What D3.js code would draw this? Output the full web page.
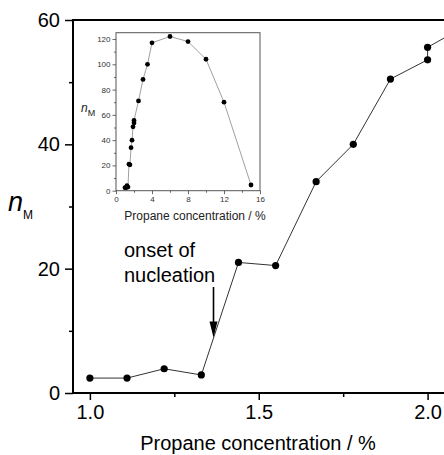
<!DOCTYPE html>
<html>
<head>
<meta charset="utf-8">
<script src="https://cdn.jsdelivr.net/npm/d3@7"></script>
<style>
  body { margin: 0; background: #fff; }
  svg { display: block; font-family: "Liberation Sans", Arial, sans-serif; }
</style>
</head>
<body>
<svg id="chart" width="444" height="455"></svg>
<script>
// propane concentration (%) and n_M
const concentration = [1.0, 1.11, 1.22, 1.33, 1.44, 1.55, 1.67, 1.78, 1.89, 2.0, 2.0, 2.5, 3.0, 3.5, 4.0, 6.0, 8.0, 10.0, 12.0, 15.0];
const nM = [2.4, 2.4, 3.9, 2.9, 21.0, 20.5, 34.0, 40.0, 50.5, 53.6, 55.6, 71, 88, 100, 117, 122, 118, 104, 70, 4.5];

const mainXTicks = [1.0, 1.5, 2.0];
const mainXMinor = [1.25, 1.75];
const mainYTicks = [0, 20, 40, 60];
const mainYMinor = [10, 30, 50];
const insetXTicks = [0, 4, 8, 12, 16];
const insetXMinor = [2, 6, 10, 14];
const insetYTicks = [0, 20, 40, 60, 80, 100, 120];
const insetYMinor = [10, 30, 50, 70, 90, 110];

const data = concentration.map((c, i) => ({ c, n: nM[i] }));
const svg = d3.select('#chart');

// ---- main panel ----
const mLeft = 73, mTop = 20, mBottom = 393;
const x = d3.scaleLinear().domain([0.95, 2.1]).range([mLeft, mLeft + 1.15 * 337.7]);
const y = d3.scaleLinear().domain([0, 60]).range([mBottom, mTop]);

svg.append('defs').append('clipPath').attr('id', 'plotclip')
  .append('rect').attr('x', mLeft).attr('y', mTop - 5).attr('width', 444 - mLeft).attr('height', mBottom - mTop + 5);

const plot = svg.append('g').attr('clip-path', 'url(#plotclip)');
const line = d3.line().x(d => x(d.c)).y(d => y(d.n));
plot.append('path').datum(data)
  .attr('d', line).attr('fill', 'none').attr('stroke', '#333').attr('stroke-width', 1);
plot.selectAll('circle').data(data).join('circle')
  .attr('cx', d => x(d.c)).attr('cy', d => y(d.n)).attr('r', 3.6).attr('fill', '#000');

// frame line along the top
svg.append('line').attr('x1', mLeft - 1).attr('x2', 444).attr('y1', mTop).attr('y2', mTop)
  .attr('stroke', '#000').attr('stroke-width', 2);

const xAxis = svg.append('g').attr('transform', `translate(0,${mBottom})`)
  .call(d3.axisBottom(x).tickValues(mainXTicks).tickFormat(d3.format('.1f')).tickSize(7).tickSizeOuter(0).tickPadding(5));
svg.append('g').attr('transform', `translate(0,${mBottom})`)
  .call(d3.axisBottom(x).tickValues(mainXMinor).tickFormat('').tickSize(4).tickSizeOuter(0))
  .call(g => g.select('.domain').remove());
const yAxis = svg.append('g').attr('transform', `translate(${mLeft},0)`)
  .call(d3.axisLeft(y).tickValues(mainYTicks).tickSize(8).tickSizeOuter(0).tickPadding(5));
svg.append('g').attr('transform', `translate(${mLeft},0)`)
  .call(d3.axisLeft(y).tickValues(mainYMinor).tickFormat('').tickSize(4).tickSizeOuter(0))
  .call(g => g.select('.domain').remove());

xAxis.select('.domain').attr('d', `M${mLeft - 1},0H444`);
yAxis.select('.domain').attr('d', `M0,${mBottom + 1}V${mTop - 1}`);
svg.selectAll('.domain').attr('stroke', '#000').attr('stroke-width', 2);
svg.selectAll('.tick line').attr('stroke', '#000').attr('stroke-width', 1.5);
svg.selectAll('.tick text').attr('font-size', 20).attr('fill', '#000').attr('font-family', 'Liberation Sans, Arial, sans-serif');

svg.append('text').attr('x', 258).attr('y', 450).attr('text-anchor', 'middle')
  .attr('font-size', 20).text('Propane concentration / %');

const ylab = svg.append('text').attr('x', 8).attr('y', 211);
ylab.append('tspan').attr('font-size', 27).attr('font-style', 'italic').text('n');
ylab.append('tspan').attr('font-size', 12).attr('dy', 8).text('M');

// annotation
svg.append('text').attr('x', 124).attr('y', 257).attr('font-size', 20).text('onset of');
svg.append('text').attr('x', 124).attr('y', 281.5).attr('font-size', 20).text('nucleation');
svg.append('line').attr('x1', 213.5).attr('x2', 213.5).attr('y1', 287).attr('y2', 324)
  .attr('stroke', '#000').attr('stroke-width', 1.6);
svg.append('path').attr('d', 'M209.5,321.5 L217.5,321.5 L213.5,337.5 Z').attr('fill', '#000');

// ---- inset ----
const ix = d3.scaleLinear().domain([0, 16]).range([116, 260]);
const iy = d3.scaleLinear().domain([0, 125]).range([190.7, 32.7]);
const inset = svg.append('g').attr('class', 'inset');

inset.append('rect').attr('x', 116).attr('y', 32.7).attr('width', 144).attr('height', 158)
  .attr('fill', '#fff').attr('stroke', '#555').attr('stroke-width', 1);
inset.append('path').datum(data)
  .attr('d', d3.line().x(d => ix(d.c)).y(d => iy(d.n)))
  .attr('fill', 'none').attr('stroke', '#888').attr('stroke-width', 0.8);
inset.selectAll('circle').data(data).join('circle')
  .attr('cx', d => ix(d.c)).attr('cy', d => iy(d.n)).attr('r', 2.4).attr('fill', '#000');

inset.append('g').attr('transform', 'translate(0,190.7)')
  .call(d3.axisBottom(ix).tickValues(insetXTicks).tickSize(3.5).tickSizeOuter(0).tickPadding(2));
inset.append('g').attr('transform', 'translate(0,190.7)')
  .call(d3.axisBottom(ix).tickValues(insetXMinor).tickFormat('').tickSize(2).tickSizeOuter(0));
inset.append('g').attr('transform', 'translate(116,0)')
  .call(d3.axisLeft(iy).tickValues(insetYTicks).tickSize(3.5).tickSizeOuter(0).tickPadding(2));
inset.append('g').attr('transform', 'translate(116,0)')
  .call(d3.axisLeft(iy).tickValues(insetYMinor).tickFormat('').tickSize(2).tickSizeOuter(0));
inset.selectAll('.domain').remove();
inset.selectAll('.tick line').attr('stroke', '#444').attr('stroke-width', 0.8);
inset.selectAll('.tick text').attr('font-size', 8).attr('fill', '#333');

inset.append('text').attr('x', 195).attr('y', 219.5).attr('text-anchor', 'middle')
  .attr('font-size', 12).attr('fill', '#222').text('Propane concentration / %');
const iylab = inset.append('text').attr('x', 81).attr('y', 112).attr('fill', '#222');
iylab.append('tspan').attr('font-size', 12).attr('font-style', 'italic').text('n');
iylab.append('tspan').attr('font-size', 9).attr('dy', 4).text('M');
</script>
</body>
</html>
